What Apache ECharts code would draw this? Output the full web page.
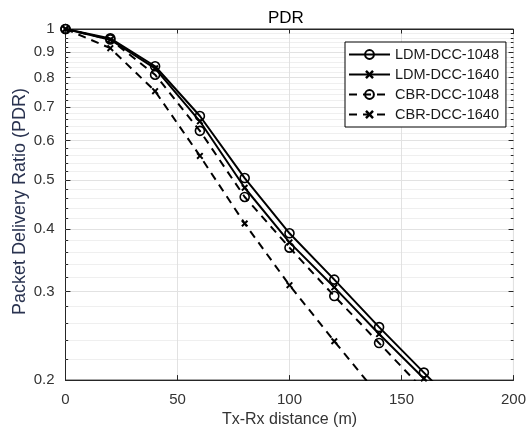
<!DOCTYPE html>
<html>
<head>
<meta charset="utf-8">
<script src="https://cdn.jsdelivr.net/npm/echarts@6/dist/echarts.min.js"></script>
<style>html,body{margin:0;padding:0;background:#fff;}#c{width:529px;height:433px;}</style>
</head>
<body>
<div id="c"></div>
<script>
// ---- data ----
const distances = [0, 20, 40, 60, 80, 100, 120, 140, 160, 180];
const ldm1048 = [1.0, 0.958, 0.843, 0.671, 0.505, 0.392, 0.317, 0.255, 0.207, 0.168];
const ldm1640 = [1.0, 0.952, 0.835, 0.655, 0.483, 0.376, 0.306, 0.247, 0.2015, 0.163];
const cbr1048 = [1.0, 0.953, 0.811, 0.627, 0.463, 0.367, 0.294, 0.237, 0.191, 0.155];
const cbr1640 = [1.0, 0.916, 0.752, 0.559, 0.410, 0.309, 0.239, 0.186, 0.146];
const seriesNames = ['LDM-DCC-1048', 'LDM-DCC-1640', 'CBR-DCC-1048', 'CBR-DCC-1640'];
const yMajorTicks = [0.2, 0.3, 0.4, 0.5, 0.6, 0.7, 0.8, 0.9, 1];
const yTickLabels = ['0.2', '0.3', '0.4', '0.5', '0.6', '0.7', '0.8', '0.9', '1'];
const yMinorTicks = [0.22, 0.24, 0.26, 0.28, 0.32, 0.34, 0.36, 0.38, 0.42, 0.44, 0.46, 0.48,
  0.52, 0.54, 0.56, 0.58, 0.62, 0.64, 0.66, 0.68, 0.72, 0.74, 0.76, 0.78,
  0.82, 0.84, 0.86, 0.88, 0.92, 0.94, 0.96, 0.98];
const xMin = 0, xMax = 200, xStep = 50;
const yMin = 0.2, yMax = 1;

// ---- build ----
const pairs = (ys) => ys.map((v, i) => [distances[i], v]);
const AX = '#262626';
const LBL = '#333';
const FONT = 'Liberation Sans, Arial, sans-serif';
const crossPath = 'path://M2,0L5,3L8,0L10,2L7,5L10,8L8,10L5,7L2,10L0,8L3,5L0,2Z';

function mkSeries(name, ys, dashed, circle) {
  return {
    name: name, type: 'line', data: pairs(ys), z: 3,
    symbol: circle ? 'circle' : crossPath,
    symbolSize: circle ? 9 : 7,
    showAllSymbol: true,
    lineStyle: { color: '#000', width: 2, type: dashed ? [8, 6] : 'solid' },
    itemStyle: circle ? { color: 'rgba(0,0,0,0)', borderColor: '#000', borderWidth: 1.6 }
                      : { color: '#000', borderWidth: 0 },
    emphasis: { disabled: true },
    animation: false
  };
}

// gridline / tick / label markLines
const ml = [];
yMajorTicks.forEach((v, i) => {
  const edge = (v === yMin || v === yMax);
  ml.push({
    yAxis: v,
    lineStyle: { color: edge ? 'rgba(0,0,0,0)' : '#e2e2e2', type: 'solid', width: 1 },
    label: { show: true, position: 'start', formatter: yTickLabels[i], distance: 11,
             fontSize: 15, color: LBL, fontFamily: FONT }
  });
  if (!edge) {
    ml.push([{ coord: [xMin, v], lineStyle: { color: AX, width: 1, type: 'solid' }, label: { show: false } }, { coord: [xMin + 2.2, v] }]);
    ml.push([{ coord: [xMax - 2.2, v], lineStyle: { color: AX, width: 1, type: 'solid' }, label: { show: false } }, { coord: [xMax, v] }]);
  }
});
yMinorTicks.forEach(v => {
  ml.push({ yAxis: v, lineStyle: { color: '#dedede', type: 'dotted', width: 1 }, label: { show: false } });
  ml.push([{ coord: [xMin, v], lineStyle: { color: AX, width: 1, type: 'solid' }, label: { show: false } }, { coord: [xMin + 1.2, v] }]);
  ml.push([{ coord: [xMax - 1.2, v], lineStyle: { color: AX, width: 1, type: 'solid' }, label: { show: false } }, { coord: [xMax, v] }]);
});

const chart = echarts.init(document.getElementById('c'), null, { renderer: 'canvas' });
const xCommon = {
  type: 'value', min: xMin, max: xMax, interval: xStep,
  axisLine: { show: true, onZero: false, lineStyle: { color: AX, width: 1 } },
  axisTick: { show: true, inside: true, length: 5, lineStyle: { color: AX } }
};
chart.setOption({
  animation: false,
  backgroundColor: '#fff',
  textStyle: { fontFamily: FONT },
  title: {
    text: 'PDR', left: 268, top: 10, padding: 0,
    textStyle: { fontSize: 17, fontWeight: 'normal', color: '#000', fontFamily: FONT }
  },
  grid: { left: 65.5, right: 12, top: 29, bottom: 50, show: true, borderColor: AX, borderWidth: 1, backgroundColor: '#fff' },
  legend: {
    data: seriesNames,
    orient: 'vertical', left: 345, top: 42,
    padding: [5, 7, 5, 3], itemGap: 5, itemWidth: 41, itemHeight: 11,
    backgroundColor: '#fff', borderColor: '#000', borderWidth: 1, borderRadius: 0,
    textStyle: { fontSize: 14.5, color: '#1a1a1a', fontFamily: FONT },
    selectedMode: false
  },
  xAxis: [
    Object.assign({}, xCommon, {
      position: 'bottom',
      name: 'Tx-Rx distance (m)', nameLocation: 'middle', nameGap: 30,
      nameTextStyle: { fontSize: 16, color: LBL, fontFamily: FONT },
      axisLabel: { fontSize: 15, color: LBL, margin: 12 },
      splitLine: { show: true, lineStyle: { color: '#e2e2e2', width: 1 } }
    }),
    Object.assign({}, xCommon, {
      position: 'top', axisLabel: { show: false }, splitLine: { show: false }
    })
  ],
  yAxis: [
    {
      type: 'log', logBase: 10, min: yMin, max: yMax, position: 'left',
      name: 'Packet Delivery Ratio (PDR)', nameLocation: 'middle', nameGap: 36,
      nameTextStyle: { fontSize: 18, color: '#2a3350', fontFamily: FONT, padding: [0, 0, 0, 6] },
      axisLine: { show: true, lineStyle: { color: AX, width: 1 } },
      axisTick: { show: false }, axisLabel: { show: false }, splitLine: { show: false }, minorSplitLine: { show: false }
    },
    {
      type: 'log', logBase: 10, min: yMin, max: yMax, position: 'right',
      axisLine: { show: true, lineStyle: { color: AX, width: 1 } },
      axisTick: { show: false }, axisLabel: { show: false }, splitLine: { show: false }
    }
  ],
  series: [
    {
      name: 'grid', type: 'line', data: [[xMin, yMax]], symbol: 'none', clip: false, z: 1,
      lineStyle: { opacity: 0 }, silent: true, animation: false,
      markLine: { silent: true, symbol: ['none', 'none'], animation: false, z: 1,
                  emphasis: { disabled: true }, data: ml }
    },
    mkSeries(seriesNames[0], ldm1048, false, true),
    mkSeries(seriesNames[1], ldm1640, false, false),
    mkSeries(seriesNames[2], cbr1048, true, true),
    mkSeries(seriesNames[3], cbr1640, true, false)
  ]
});
</script>
</body>
</html>
